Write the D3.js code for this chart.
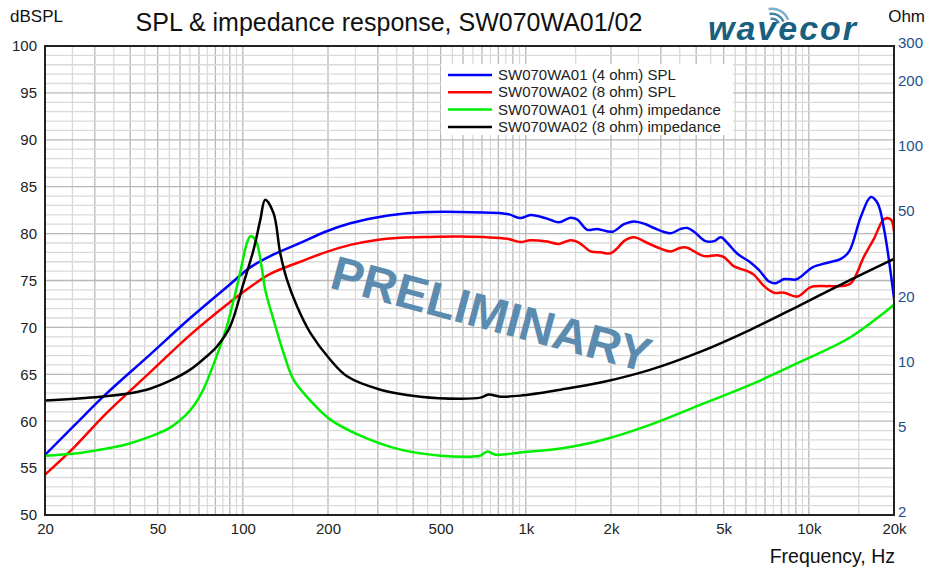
<!DOCTYPE html>
<html>
<head>
<meta charset="utf-8">
<script src="https://cdn.jsdelivr.net/npm/d3@7"></script>
<style>
  body { margin: 0; background: #fff; }
  svg { display: block; font-family: "Liberation Sans", Arial, sans-serif; }
</style>
</head>
<body>
<svg id="chart" width="927" height="569"></svg>
<script>
// frequency response data (Hz / dB / ohm)
const freqSpl01 = [20, 25.5, 32.6, 47, 65.2, 90.2, 106.2, 125, 159.6, 195.6, 239.9, 293.6, 360.6, 460.8, 587.6, 859.6, 957, 1039, 1190, 1308, 1439, 1520, 1649, 1789, 2021, 2222, 2410, 2652, 2836, 3250, 3526, 3724, 3930, 4321, 4624, 4884, 5157, 5595, 6238, 6674, 7237, 7641, 8178, 8995, 9370, 10305, 11647, 12981, 13886, 15272, 16565, 17497, 18462, 20000];
const spl01 = [56.4, 59.6, 62.8, 67.1, 71.0, 74.6, 76.4, 77.6, 79.0, 80.2, 81.1, 81.7, 82.1, 82.3, 82.3, 82.1, 81.65, 81.97, 81.6, 81.2, 81.7, 81.5, 80.4, 80.5, 80.2, 81.0, 81.3, 81.0, 80.6, 80.05, 80.5, 80.6, 80.2, 79.2, 79.2, 79.6, 79.0, 77.85, 76.9, 76.1, 74.9, 74.7, 75.15, 75.1, 75.4, 76.4, 76.9, 77.3, 78.1, 81.8, 83.9, 83.25, 80.4, 73.1];

const freqSpl02 = [20, 25.5, 32.6, 47, 65.2, 90.2, 106.2, 125, 159.6, 195.6, 239.9, 293.6, 360.6, 460.8, 587.6, 859.6, 957, 1039, 1190, 1308, 1439, 1540, 1694, 1838, 1994, 2107, 2222, 2410, 2688, 2996, 3250, 3526, 3724, 3930, 4263, 4754, 5016, 5443, 6070, 6405, 6947, 7538, 8178, 9120, 10164, 11647, 12981, 14081, 15692, 17020, 18462, 19498, 20000];
const spl02 = [54.3, 57.3, 60.7, 65.2, 69.2, 72.7, 74.3, 75.7, 77.0, 78.0, 78.8, 79.3, 79.55, 79.65, 79.7, 79.45, 79.1, 79.3, 79.15, 78.9, 79.3, 79.05, 78.1, 78.0, 77.9, 78.45, 79.2, 79.6, 79.0, 78.4, 78.1, 78.5, 78.5, 78.1, 77.6, 77.7, 77.5, 76.5, 76.0, 75.6, 74.4, 73.7, 73.7, 73.3, 74.3, 74.4, 74.4, 74.7, 77.6, 79.5, 81.55, 81.5, 80.2];

const freqImp01 = [20, 25.5, 31.3, 38.4, 47, 55.4, 62.6, 67.9, 72.5, 75.6, 81.9, 87.8, 96.6, 103.4, 106.2, 108.9, 112.2, 116.2, 120, 128.4, 139.3, 151.1, 173.2, 203.8, 260.2, 360.6, 499.3, 637.4, 691.4, 732, 781, 957, 1327, 1838, 2762, 4150, 6237, 9370, 14082, 20000];
const imp01 = [3.77, 3.86, 4.02, 4.24, 4.62, 5.09, 5.78, 6.57, 7.63, 8.68, 11.45, 15.0, 24.7, 36.5, 39.2, 38.9, 36.5, 29.0, 22.2, 16.1, 11.3, 8.49, 6.79, 5.54, 4.67, 4.02, 3.77, 3.73, 3.77, 3.94, 3.81, 3.90, 4.07, 4.43, 5.25, 6.50, 8.05, 10.3, 13.4, 18.9];

const freqImp02 = [20, 31.3, 40, 47, 55.4, 65.2, 73.6, 81, 90.2, 100.6, 109.1, 115.3, 120, 128.4, 135.6, 143.2, 155.4, 173.2, 203.8, 233.5, 306.2, 424.3, 587.6, 691.4, 738, 814, 957, 1327, 1838, 2762, 4150, 6237, 9370, 14082, 20000];
const imp02 = [6.79, 7.08, 7.35, 7.71, 8.40, 9.45, 10.74, 12.1, 15.0, 23.8, 34.0, 46.8, 58.0, 50.3, 32.8, 24.7, 18.6, 14.0, 10.5, 8.80, 7.63, 7.08, 6.93, 7.01, 7.24, 7.08, 7.16, 7.63, 8.23, 9.45, 11.45, 14.5, 18.9, 24.7, 30.9];

const freqTicks = [20, 50, 100, 200, 500, 1000, 2000, 5000, 10000, 20000];
const splTicks = [50, 55, 60, 65, 70, 75, 80, 85, 90, 95, 100];
const ohmTicks = [2, 5, 10, 20, 50, 100, 200, 300];

const seriesNames = ["SW070WA01 (4 ohm) SPL", "SW070WA02 (8 ohm) SPL", "SW070WA01 (4 ohm) impedance", "SW070WA02 (8 ohm) impedance"];
const seriesColors = ["#0000ff", "#ff0000", "#00ee00", "#000000"];

const width = 927;
const height = 569;
const margin = { top: 46, right: 33, bottom: 54, left: 45 };

const svg = d3.select("#chart");

const x = d3.scaleLog().domain([20, 20000]).range([margin.left, width - margin.right]);
const y = d3.scaleLinear().domain([50, 100]).range([height - margin.bottom, margin.top]);
const yR = d3.scaleLog().domain([2, 300]).range([height - margin.bottom, margin.top]);

// grid: vertical lines at 1..9 (dark) and half steps (light) per decade
const vGrid = [];
[10, 100, 1000, 10000].forEach(function (dec) {
  for (let m = 1; m < 10; m += 0.5) {
    const f = m * dec;
    if (f > 20 && f < 20000) vGrid.push({ f: f, major: m % 1 === 0 });
  }
});
const hGrid = d3.range(51, 100).map(function (d) { return { v: d, major: d % 5 === 0 }; });

const grid = svg.append("g");
grid.selectAll(".vg").data(vGrid).enter().append("line")
  .attr("x1", function (d) { return x(d.f); })
  .attr("x2", function (d) { return x(d.f); })
  .attr("y1", margin.top).attr("y2", height - margin.bottom)
  .attr("stroke", function (d) { return d.major ? "#b8b8b8" : "#dadada"; })
  .attr("stroke-width", 1.3);
grid.selectAll(".hg").data(hGrid).enter().append("line")
  .attr("x1", margin.left).attr("x2", width - margin.right)
  .attr("y1", function (d) { return y(d.v); })
  .attr("y2", function (d) { return y(d.v); })
  .attr("stroke", function (d) { return d.major ? "#b8b8b8" : "#dadada"; })
  .attr("stroke-width", 1.3);

// watermark
svg.append("text")
  .attr("transform", "translate(487,330) rotate(15)")
  .attr("text-anchor", "middle")
  .attr("font-size", 48)
  .attr("font-weight", "bold")
  .attr("fill", "#5b8bae")
  .text("PRELIMINARY");

// legend box (white, no border)
const legend = svg.append("g").attr("transform", "translate(441,64)");
legend.append("rect").attr("width", 292).attr("height", 71).attr("fill", "#fff");
seriesNames.forEach(function (name, i) {
  const ly = 11 + i * 17.3;
  legend.append("line")
    .attr("x1", 7).attr("x2", 51).attr("y1", ly).attr("y2", ly)
    .attr("stroke", seriesColors[i]).attr("stroke-width", 2.5);
  legend.append("text")
    .attr("x", 57).attr("y", ly + 5)
    .attr("font-size", 15).attr("fill", "#222")
    .text(name);
});

// curves
svg.append("clipPath").attr("id", "plotclip").append("rect")
  .attr("x", margin.left).attr("y", margin.top)
  .attr("width", width - margin.left - margin.right)
  .attr("height", height - margin.top - margin.bottom);

const splLine = d3.line()
  .x(function (d) { return x(d[0]); })
  .y(function (d) { return y(d[1]); })
  .curve(d3.curveCatmullRom.alpha(0.5));
const ohmLine = d3.line()
  .x(function (d) { return x(d[0]); })
  .y(function (d) { return yR(d[1]); })
  .curve(d3.curveCatmullRom.alpha(0.5));

const curves = [
  { data: d3.zip(freqSpl02, spl02), line: splLine, color: seriesColors[1] },
  { data: d3.zip(freqSpl01, spl01), line: splLine, color: seriesColors[0] },
  { data: d3.zip(freqImp01, imp01), line: ohmLine, color: seriesColors[2] },
  { data: d3.zip(freqImp02, imp02), line: ohmLine, color: seriesColors[3] }
];
const plot = svg.append("g").attr("clip-path", "url(#plotclip)");
curves.forEach(function (c) {
  plot.append("path")
    .attr("d", c.line(c.data))
    .attr("fill", "none")
    .attr("stroke", c.color)
    .attr("stroke-width", 2.5)
    .attr("stroke-linejoin", "round");
});

// frame
svg.append("rect")
  .attr("x", margin.left).attr("y", margin.top)
  .attr("width", width - margin.left - margin.right)
  .attr("height", height - margin.top - margin.bottom)
  .attr("fill", "none").attr("stroke", "#222").attr("stroke-width", 2);

// axes
function fmtHz(d) { return d >= 1000 ? (d / 1000) + "k" : String(d); }

const xAxis = svg.append("g")
  .attr("transform", "translate(0," + (height - margin.bottom) + ")")
  .call(d3.axisBottom(x).tickValues(freqTicks).tickFormat(fmtHz).tickSize(0).tickPadding(8));
const yAxis = svg.append("g")
  .attr("transform", "translate(" + margin.left + ",0)")
  .call(d3.axisLeft(y).tickValues(splTicks).tickSize(0).tickPadding(8));
// right labels sit a little above their values in the reference
const yAxisR = svg.append("g")
  .attr("transform", "translate(" + (width - margin.right) + ",-3)")
  .call(d3.axisRight(yR).tickValues(ohmTicks).tickFormat(d3.format("d")).tickSize(0).tickPadding(4));

[xAxis, yAxis, yAxisR].forEach(function (a) {
  a.select(".domain").remove();
  a.selectAll("text").attr("font-size", 15).attr("font-family", "Liberation Sans, Arial, sans-serif");
});
xAxis.selectAll("text").attr("fill", "#222");
yAxis.selectAll("text").attr("fill", "#222");
yAxisR.selectAll("text").attr("fill", "#1f4f8a");

// titles
svg.append("text").attr("x", 389).attr("y", 31).attr("text-anchor", "middle")
  .attr("font-size", 25).attr("fill", "#111")
  .text("SPL & impedance response, SW070WA01/02");
svg.append("text").attr("x", 10).attr("y", 22)
  .attr("font-size", 17).attr("fill", "#111").text("dBSPL");
svg.append("text").attr("x", 925).attr("y", 22).attr("text-anchor", "end")
  .attr("font-size", 17).attr("fill", "#111").text("Ohm");
svg.append("text").attr("x", 895).attr("y", 563).attr("text-anchor", "end")
  .attr("font-size", 19.5).attr("fill", "#111").text("Frequency, Hz");

// logo
const logo = svg.append("g").attr("transform", "translate(708,40)");
logo.append("text")
  .attr("x", 0).attr("y", 0)
  .attr("font-size", 34).attr("font-style", "italic").attr("font-weight", "bold")
  .attr("letter-spacing", 2)
  .attr("fill", "#1a5f80")
  .text("wavecor");
const waveArc = d3.arc();
[[6, 8.5], [11, 13.5], [16, 18.5]].forEach(function (r, i) {
  logo.append("path")
    .attr("transform", "translate(64,-14)")
    .attr("d", waveArc({ innerRadius: r[0], outerRadius: r[1], startAngle: -0.2, endAngle: 1.2 }))
    .attr("fill", i === 2 ? "#7fb0cc" : "#3f80a6");
});
</script>
</body>
</html>
